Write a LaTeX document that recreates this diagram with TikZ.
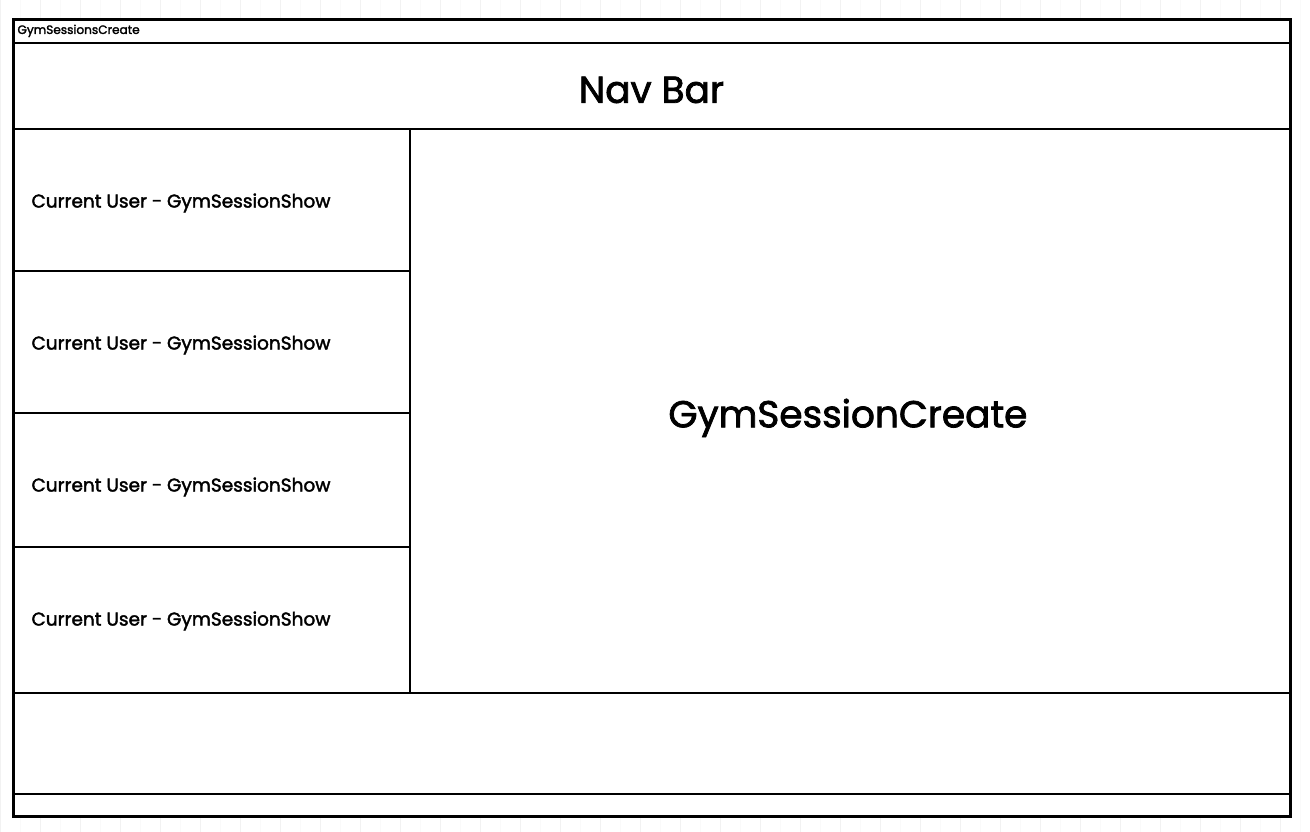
\documentclass[tikz,border=0pt]{standalone}
\usepackage{fontspec}
\setmainfont{Poppins}[FakeBold=2]
\usetikzlibrary{positioning}

\tikzset{
  pane/.style={draw=black, line width=1.8pt, fill=white, anchor=north west, inner sep=0pt},
  frame/.style={draw=black, line width=2.6pt, anchor=north west, inner sep=0pt},
  rowtext/.style={anchor=west, font=\fontsize{18.5}{22}\selectfont},
  bigtext/.style={font=\fontsize{37.5}{44}\selectfont}
}

\begin{document}
\begin{tikzpicture}[x=1pt,y=-1pt]
  \useasboundingbox (0,0) rectangle (1310,832);
  \fill[white] (0,0) rectangle (1310,832);
  % faint paper grid
  \draw[black!2, line width=1pt] (-8,-2) grid[step=20] (1310,832);
  \draw[black!5, line width=1pt] (-8,-2) grid[step=40] (1310,832);
  % window
  \node[pane, minimum width=1277, minimum height=797] (window) at (12,18) {};
  \node[pane, minimum width=1277, minimum height=24] (title) at (12,18) {};
  \node[anchor=west, font=\fontsize{12.1}{14}\selectfont] (titletext)
    at ([xshift=2]title.west) {GymSessionsCreate};
  % nav bar
  \node[pane, minimum width=1277, minimum height=86] (nav) at (12,42) {};
  \node[bigtext] (navtext) at ([yshift=-4]nav.center) {Nav Bar};
  % main area
  \node[pane, minimum width=880, minimum height=564] (create) at (409,128) {};
  \node[bigtext] (createtext) at ([xshift=-2,yshift=-7]create.center) {GymSessionCreate};
  % list of sessions
  \foreach \top/\height/\shift [count=\i] in {
      128/142/-3,
      270/142/-3,
      412/134/-7,
      546/146/-1
    } {
      \node[pane, minimum width=397, minimum height=\height] (row\i) at (12,\top) {};
      \node[rowtext] (rowtext\i) at ([xshift=16,yshift=\shift]row\i.west)
        {Current User - GymSessionShow};
    };
  % footer
  \node[pane, minimum width=1277, minimum height=101] (footer) at (12,692) {};
  \node[pane, minimum width=1277, minimum height=22] (status) at (12,793) {};
  \node[frame, minimum width=1277, minimum height=797] (border) at (12,18) {};
\end{tikzpicture}
\end{document}
